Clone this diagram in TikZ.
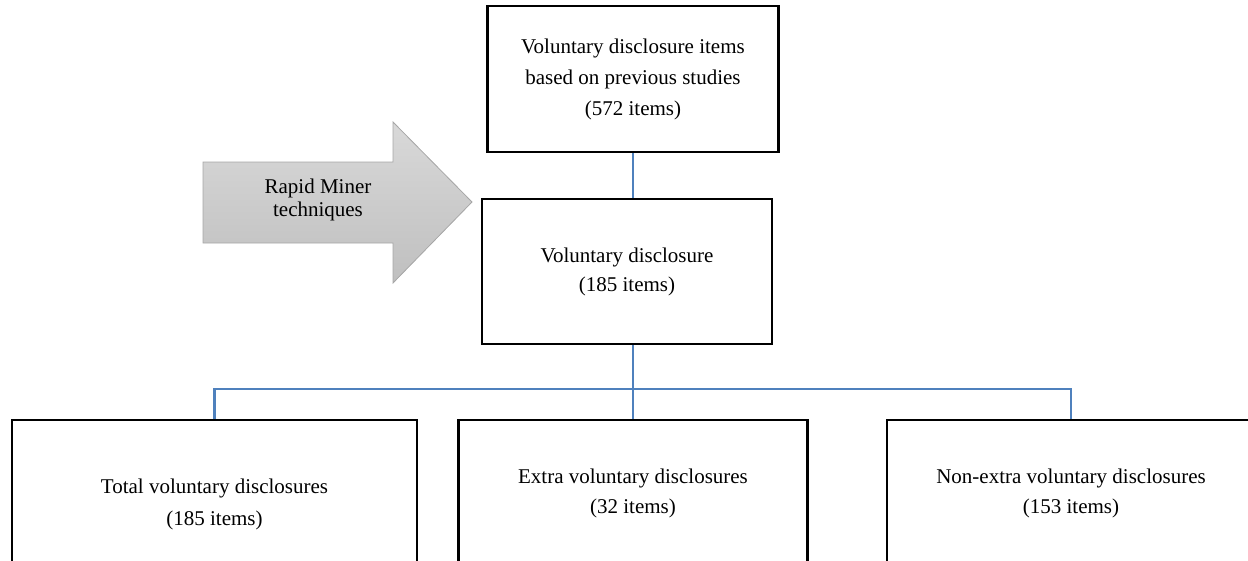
\documentclass[tikz,border=0pt]{standalone}
\usepackage{fontspec}
\setmainfont{Liberation Serif}
\begin{document}
\begin{tikzpicture}[x=1pt,y=-1pt,
  box/.style={draw=black,line width=2.7pt,rectangle,align=center,inner sep=0pt,
    font=\fontsize{21}{31}\selectfont},
  conn/.style={draw=blueconn,line width=2.7pt},
  arrowshape/.style={top color=black!15,bottom color=black!25,draw=black!35,line width=0.8pt},
  lbl/.style={align=center,font=\fontsize{21}{23}\selectfont}]
\definecolor{blueconn}{HTML}{4F81BD}
\useasboundingbox (0,0) rectangle (1248,560);
\clip (0,0) rectangle (1248,560);
% arrow
\draw[arrowshape] (203,162) -- (393,162) -- (393,122) -- (472,202) -- (393,283) -- (393,243) -- (203,243) -- cycle;
\node[lbl] (rm) at (318,200) {Rapid Miner\\techniques};
% boxes
\node[box,minimum width=291pt,minimum height=146pt] (top) at (633,79)
  {Voluntary disclosure items\\based on previous studies\\(572 items)};
\node[box,minimum width=290pt,minimum height=145pt,font=\fontsize{21}{29}\selectfont] (mid) at (627,271.5)
  {Voluntary disclosure\\(185 items)};
\node[box,minimum width=405pt,minimum height=168pt,font=\fontsize{21}{32}\selectfont] (b1) at (214.5,504)
  {Total voluntary disclosures\\(185 items)};
\node[box,minimum width=349pt,minimum height=146pt,font=\fontsize{21}{30}\selectfont] (b2) at (633,493)
  {Extra voluntary disclosures\\(32 items)};
\node[box,minimum width=368pt,minimum height=146pt,font=\fontsize{21}{30}\selectfont] (b3) at (1071,493)
  {Non-extra voluntary disclosures\\(153 items)};
% connectors
\coordinate (bus) at (633,389);
\draw[conn] (top.south) -- (top.south |- mid.north);
\draw[conn] (top.south |- mid.south) -- (bus);
\draw[conn] (b1.north) -- (b1.north |- bus) -- (b3.north |- bus) -- (b3.north);
\draw[conn] (bus) -- (b2.north);
\end{tikzpicture}
\end{document}
